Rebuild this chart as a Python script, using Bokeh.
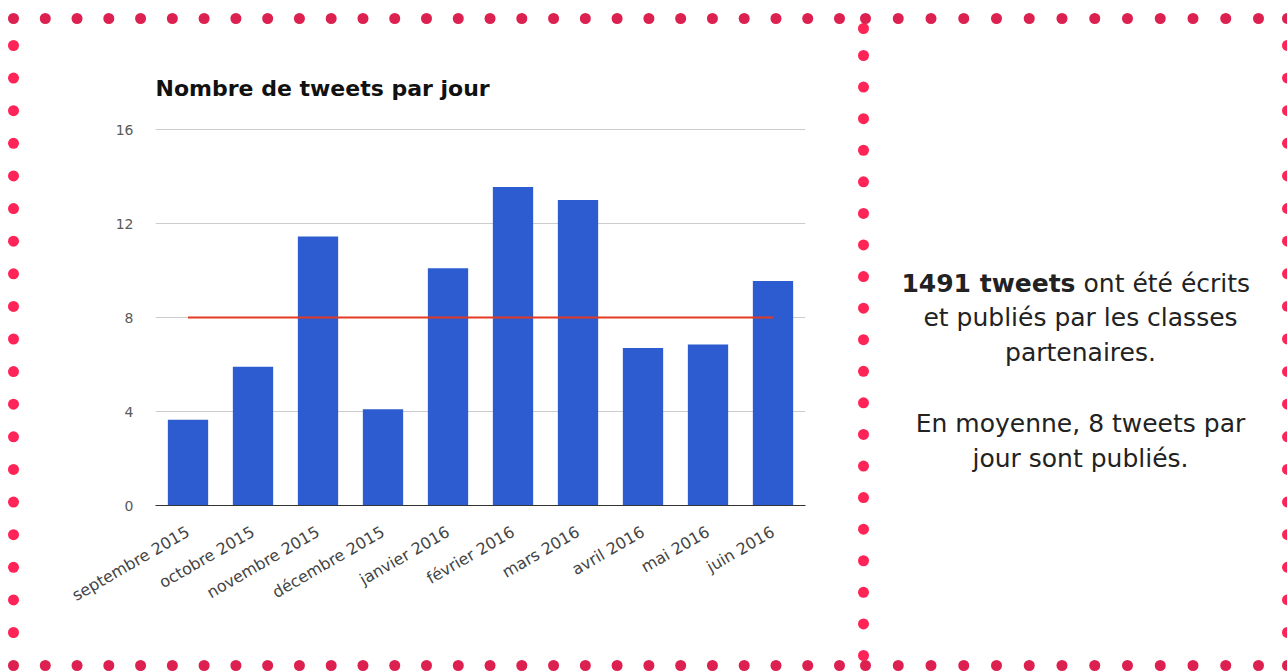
import numpy as np
from math import pi
from bokeh.plotting import figure
from bokeh.models import ColumnDataSource, Range1d, FactorRange, FixedTicker
from bokeh.layouts import column, row
from bokeh.embed import file_html
from bokeh.resources import INLINE
from bokeh.core.properties import value

# ---------------- data ----------------
categories = ["septembre 2015", "octobre 2015", "novembre 2015", "décembre 2015",
              "janvier 2016", "février 2016", "mars 2016", "avril 2016",
              "mai 2016", "juin 2016"]
tweets_per_day = [3.65, 5.9, 11.45, 4.1, 10.1, 13.55, 13.0, 6.7, 6.85, 9.55]
average_per_day = [8, 8, 8, 8, 8, 8, 8, 8, 8, 8]
y_ticks = [0, 4, 8, 12, 16]
title_text = "Nombre de tweets par jour"
summary_bold = "1491 tweets"
summary_rest = "ont été écrits"
summary_lines = ["et publiés par les classes", "partenaires.",
                 "En moyenne, 8 tweets par", "jour sont publiés."]

FONT = "DejaVu Sans"
ROW_DOT = "#dc2150"
COL_DOT = "#ff2457"
W, H = 1287, 671
FL, FR, FT, FB = 155, 805, 128, 505   # plot frame in page pixels

# ---------------- background figure: dotted frame + summary text ----------------
deco = figure(width=W, height=H, x_range=Range1d(0, W), y_range=Range1d(H, 0),
              output_backend="svg", toolbar_location=None,
              x_axis_location=None, y_axis_location=None, min_border=0)
deco.outline_line_color = None
deco.grid.visible = False
deco.background_fill_color = "white"
deco.border_fill_color = "white"

row_x = np.concatenate([np.linspace(13, 839, 27), np.linspace(865, 1258, 13), [1287]])
rows_src = ColumnDataSource(dict(
    x=np.concatenate([row_x, row_x]),
    y=np.concatenate([np.full(len(row_x), 18.0), np.full(len(row_x), 665.0)])))
side_y = np.linspace(45, 632, 19)
mid_y = np.concatenate([[28.0], np.linspace(55, 655, 20)])
cols_src = ColumnDataSource(dict(
    x=np.concatenate([np.full(len(side_y), 13.0), np.full(len(side_y), 1287.0),
                      np.full(len(mid_y), 863.0)]),
    y=np.concatenate([side_y, side_y, mid_y])))
deco.scatter("x", "y", source=cols_src, size=11, color=COL_DOT, line_color=None)
deco.scatter("x", "y", source=rows_src, size=11, color=ROW_DOT, line_color=None)

common = dict(text_font=value(FONT), text_font_size="25px", text_color="#222222",
              text_baseline="alphabetic")
deco.text(x=[1075], y=[283], text=[summary_bold], text_align="right",
          text_font_style="bold", **common)
deco.text(x=[1083], y=[283], text=[summary_rest], text_align="left", **common)
deco.text(x=[1080] * 4, y=[317, 352, 423, 458], text=summary_lines,
          text_align="center", **common)

# ---------------- chart (transparent, laid over the background) ----------------
src = ColumnDataSource(dict(cat=categories, val=tweets_per_day, avg=average_per_day))

p = figure(width=W, height=H, x_range=FactorRange(factors=categories, range_padding=0),
           y_range=Range1d(0, 16 + 1 / 23.5), output_backend="svg", toolbar_location=None,
           min_border_left=FL, min_border_right=W - FR, min_border_top=FT,
           min_border_bottom=H - FB, title=title_text)
p.outline_line_color = None
p.background_fill_color = None
p.border_fill_color = None

p.title.text_font = FONT
p.title.text_font_size = "22px"
p.title.text_font_style = "bold"
p.title.text_color = "#111111"
p.title.align = "left"
p.title.offset = 0
p.title.standoff = 55

p.vbar(x="cat", top="val", width=0.62, source=src, color="#2d5bd0", line_color=None)
p.line(x="cat", y="avg", source=src, line_color="#e33b20", line_width=2)

p.xgrid.visible = False
p.ygrid.ticker = FixedTicker(ticks=y_ticks)
p.ygrid.grid_line_color = "#cccccc"

p.yaxis.ticker = FixedTicker(ticks=y_ticks)
p.yaxis.axis_line_color = None
p.yaxis.major_tick_line_color = None
p.yaxis.minor_tick_line_color = None
p.yaxis.major_tick_out = 0
p.yaxis.major_label_standoff = 22
p.yaxis.major_label_text_font = FONT
p.yaxis.major_label_text_font_size = "14px"
p.yaxis.major_label_text_color = "#5a5a5a"

p.xaxis.axis_line_color = "#333333"
p.xaxis.major_tick_line_color = None
p.xaxis.minor_tick_line_color = None
p.xaxis.major_tick_out = 0
p.xaxis.major_label_standoff = 25
p.xaxis.major_label_orientation = pi / 6
p.xaxis.major_label_text_font = FONT
p.xaxis.major_label_text_font_size = "16px"
p.xaxis.major_label_text_color = "#444444"

layout = column(deco, row(p, margin=(-H, 0, 0, 0)))
open("out.html", "w").write(file_html(layout, INLINE))
